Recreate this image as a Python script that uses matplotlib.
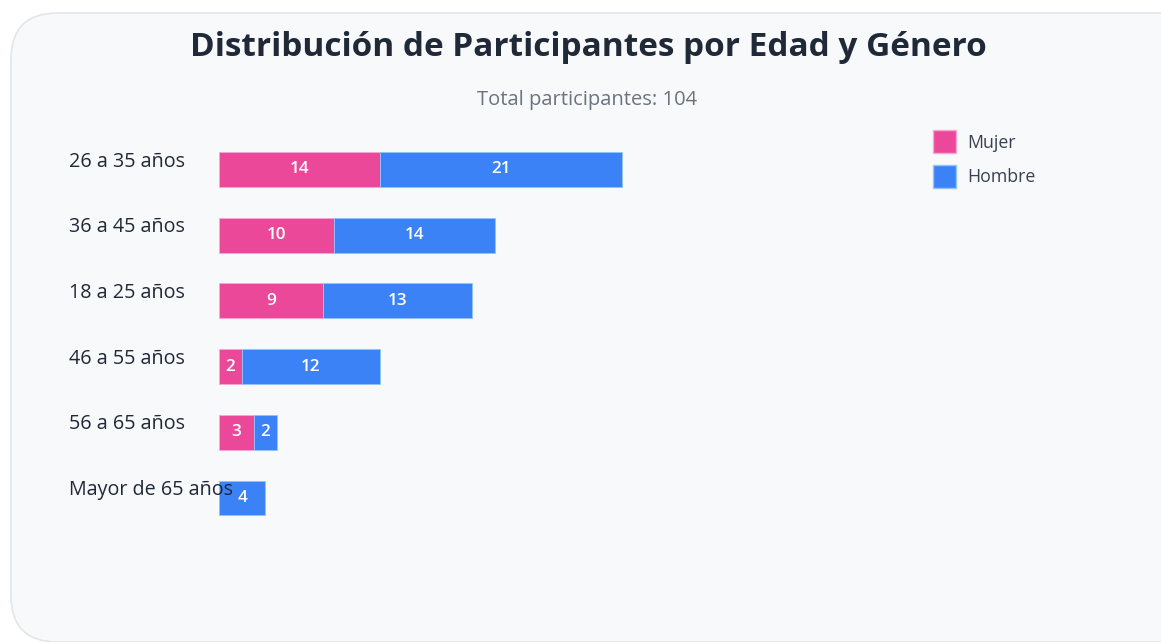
import matplotlib
matplotlib.use("Agg")
import matplotlib.pyplot as plt
from matplotlib.patches import FancyBboxPatch, Patch
from matplotlib.transforms import blended_transform_factory

plt.rcParams['font.family'] = ['Open Sans', 'DejaVu Sans']

# data
grupos = ['26 a 35 años', '36 a 45 años', '18 a 25 años',
          '46 a 55 años', '56 a 65 años', 'Mayor de 65 años']
mujer = [14, 10, 9, 2, 3, 0]
hombre = [21, 14, 13, 12, 2, 4]
total = 104

PINK = '#ec4899'
BLUE = '#3b82f6'
W, H = 1161, 642

fig = plt.figure(figsize=(W / 100, H / 100), dpi=100)
fig.patch.set_facecolor('white')

# rounded card behind everything
card = FancyBboxPatch((11 / W, 0.0 / H), 1.2, (H - 13) / H,
                      boxstyle='round,pad=0,rounding_size=0.04',
                      transform=fig.transFigure, facecolor='#f8f9fb',
                      edgecolor='#e3e5e9', linewidth=1.2, zorder=-5,
                      mutation_aspect=W / H)
fig.patches.append(card)

fig.text(588 / W, 1 - 47 / H, 'Distribución de Participantes por Edad y Género',
         ha='center', va='center', fontsize=24, fontweight='bold', color='#1f2937')
fig.text(587 / W, 1 - 100 / H, f'Total participantes: {total}',
         ha='center', va='center', fontsize=14.5, color='#6b7280')

# axes: x starts at px 219, 11.5 px per unit; rows ~65.7 px apart
ax_left, ax_right = 219, 909
ax_top, ax_bot = 136.6, 530.9
ax = fig.add_axes([ax_left / W, 1 - ax_bot / H, (ax_right - ax_left) / W, (ax_bot - ax_top) / H])
ax.set_zorder(2)
ax.set_facecolor('none')
ax.set_xlim(0, (ax_right - ax_left) / 11.5)
ax.set_ylim(len(grupos) - 0.5, -0.5)
ax.axis('off')

pos = list(range(len(grupos)))
bh = 0.53
b1 = ax.barh(pos, mujer, height=bh, color=PINK, edgecolor='#f9a8d4', linewidth=0.6)
b2 = ax.barh(pos, hombre, left=mujer, height=bh, color=BLUE, edgecolor='#93c5fd', linewidth=0.6)
ax.bar_label(b1, labels=[str(v) if v else '' for v in mujer], label_type='center',
             color='white', fontsize=12.3, fontweight='semibold')
ax.bar_label(b2, labels=[str(v) if v else '' for v in hombre], label_type='center',
             color='white', fontsize=12.3, fontweight='semibold')

trans = blended_transform_factory(fig.transFigure, ax.transData)
for i, g in enumerate(grupos):
    ax.text(69 / W, i - 0.12, g, transform=trans, ha='left', va='center',
            fontsize=14.2, color='#1f2937', zorder=5)

handles = [Patch(facecolor=PINK, edgecolor='#f9a8d4', label='Mujer'),
           Patch(facecolor=BLUE, edgecolor='#93c5fd', label='Hombre')]
fig.legend(handles=handles, loc='upper left', bbox_to_anchor=(917 / W, 1 - 114 / H),
           frameon=False, fontsize=12.8, handlelength=1.3, handleheight=1.65,
           handletextpad=0.65, labelspacing=0.65, labelcolor='#374151')

fig.savefig('out.png', dpi=100, facecolor=fig.get_facecolor())
